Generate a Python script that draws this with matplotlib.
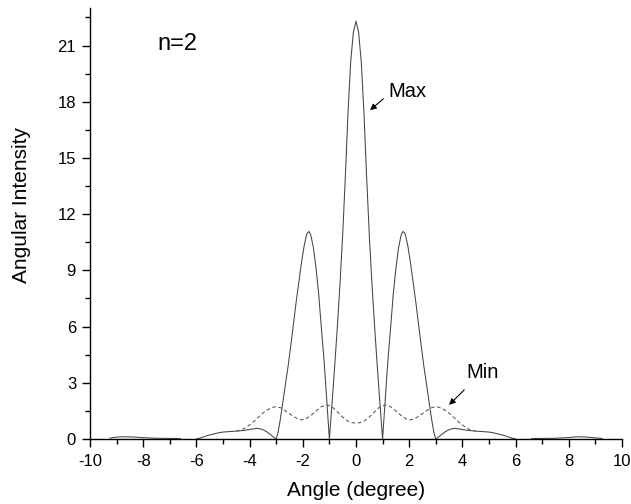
import matplotlib
matplotlib.use('Agg')
import matplotlib.pyplot as plt
from matplotlib.ticker import MultipleLocator

plt.rcParams['font.family'] = ['Liberation Sans', 'DejaVu Sans']
plt.rcParams['axes.unicode_minus'] = False

# solid curve ("Max"), main lobe region
max_x = [-6.0, -5.8, -5.6, -5.4, -5.2, -5.0, -4.8, -4.5, -4.2, -3.9, -3.7, -3.5, -3.35, -3.2, -3.1,
         -3.0, -2.93, -2.85, -2.75, -2.65, -2.55, -2.45, -2.35, -2.25, -2.15, -2.05, -1.95, -1.85, -1.77,
         -1.7, -1.6, -1.5, -1.4, -1.3, -1.2, -1.1,
         -1.0, -0.9, -0.8, -0.7, -0.6, -0.5, -0.4, -0.3, -0.2, -0.1,
         0.0, 0.1, 0.2, 0.3, 0.4, 0.5, 0.6, 0.7, 0.8, 0.9, 1.0,
         1.1, 1.2, 1.3, 1.4, 1.5, 1.6, 1.7, 1.77, 1.85, 1.95, 2.05, 2.15, 2.25, 2.35, 2.45, 2.55,
         2.65, 2.75, 2.85, 2.93, 3.0,
         3.1, 3.2, 3.35, 3.5, 3.7, 3.9, 4.2, 4.5, 4.8, 5.0, 5.2, 5.4, 5.6, 5.8, 6.0]
max_y = [0.0, 0.08, 0.17, 0.25, 0.32, 0.37, 0.39, 0.42, 0.46, 0.53, 0.57, 0.5, 0.38, 0.22, 0.1,
         0.0, 0.35, 1.0, 1.95, 2.95, 3.9, 5.0, 6.15, 7.3, 8.35, 9.4, 10.3, 10.95, 11.08,
         10.9, 10.2, 9.1, 7.7, 5.9, 4.2, 2.1,
         0.0, 1.9, 3.9, 6.0, 8.3, 10.9, 14.0, 17.4, 20.1, 21.7,
         22.3, 21.7, 20.1, 17.4, 14.0, 10.9, 8.3, 6.0, 3.9, 1.9, 0.0,
         2.1, 4.2, 5.9, 7.7, 9.1, 10.2, 10.9, 11.08, 10.95, 10.3, 9.4, 8.35, 7.3, 6.15, 5.0, 3.9,
         2.95, 1.95, 1.0, 0.35, 0.0,
         0.1, 0.22, 0.38, 0.5, 0.57, 0.53, 0.46, 0.42, 0.39, 0.37, 0.32, 0.25, 0.17, 0.08, 0.0]

# solid curve, outer tails
tail_left_x = [-9.25, -9.0, -8.7, -8.3, -8.0, -7.5, -7.0, -6.6]
tail_left_y = [0.05, 0.1, 0.12, 0.1, 0.07, 0.04, 0.03, 0.02]
tail_right_x = [6.6, 7.0, 7.5, 8.0, 8.35, 8.7, 9.0, 9.25]
tail_right_y = [0.02, 0.03, 0.04, 0.08, 0.12, 0.1, 0.06, 0.03]

# dashed curve ("Min")
min_x = [-4.5, -4.3, -4.1, -3.9, -3.7, -3.5, -3.3, -3.1, -3.0, -2.8, -2.6, -2.4, -2.2, -2.05, -1.9,
         -1.7, -1.5, -1.3, -1.1, -0.9, -0.7, -0.5, -0.3, -0.15, 0.0,
         0.15, 0.3, 0.5, 0.7, 0.9, 1.1, 1.3, 1.5, 1.7, 1.9, 2.05, 2.2, 2.4, 2.6, 2.8, 3.0,
         3.1, 3.3, 3.5, 3.7, 3.9, 4.1, 4.3, 4.5]
min_y = [0.42, 0.48, 0.65, 0.86, 1.12, 1.38, 1.58, 1.7, 1.73, 1.65, 1.45, 1.25, 1.08, 1.02, 1.06,
         1.25, 1.5, 1.72, 1.82, 1.72, 1.45, 1.17, 0.95, 0.87, 0.85,
         0.87, 0.95, 1.17, 1.45, 1.72, 1.82, 1.72, 1.5, 1.25, 1.06, 1.02, 1.08, 1.25, 1.45, 1.65, 1.73,
         1.7, 1.58, 1.38, 1.12, 0.86, 0.65, 0.48, 0.42]

fig = plt.figure(figsize=(6.31, 5.04), dpi=100)
ax = fig.add_axes([0.1426, 0.129, 0.8431, 0.855])

ax.plot(max_x, max_y, color='#444444', lw=0.75)
ax.plot(tail_left_x, tail_left_y, color='#444444', lw=0.75)
ax.plot(tail_right_x, tail_right_y, color='#444444', lw=0.75)
ax.plot(min_x, min_y, color='#555555', lw=0.75, linestyle=(0, (3.5, 2.5)))

ax.set_xlim(-10, 10)
ax.set_ylim(0, 23)

ax.spines['top'].set_visible(False)
ax.spines['right'].set_visible(False)
ax.spines['left'].set_linewidth(1.0)
ax.spines['bottom'].set_linewidth(1.0)

ax.xaxis.set_major_locator(MultipleLocator(2))
ax.xaxis.set_minor_locator(MultipleLocator(1))
ax.yaxis.set_major_locator(MultipleLocator(3))
ax.yaxis.set_minor_locator(MultipleLocator(1.5))
ax.tick_params(axis='both', which='major', direction='out', length=6, width=1.0,
               labelsize=12, pad=4)
ax.tick_params(axis='both', which='minor', direction='out', length=3.5, width=1.0)
ax.tick_params(axis='x', which='major', pad=5)

ax.set_xlabel('Angle (degree)', fontsize=15)
ax.set_ylabel('Angular Intensity', fontsize=15)
ax.xaxis.set_label_coords(0.5, -0.097)
ax.yaxis.set_label_coords(-0.11, 0.542)

ax.text(-7.48, 21.06, 'n=2', fontsize=17, va='center', ha='left')

ax.annotate('', xy=(0.53, 17.55), xytext=(1.03, 18.16),
            arrowprops=dict(arrowstyle='-|>', color='black', lw=0.8, mutation_scale=9,
                            shrinkA=0, shrinkB=0))
ax.text(1.2, 18.55, 'Max', fontsize=14.5, va='center', ha='left')

ax.annotate('', xy=(3.5, 1.82), xytext=(4.07, 2.62),
            arrowprops=dict(arrowstyle='-|>', color='black', lw=0.8, mutation_scale=9,
                            shrinkA=0, shrinkB=0))
ax.text(4.16, 3.55, 'Min', fontsize=14.5, va='center', ha='left')

fig.savefig('out.png', dpi=100)
